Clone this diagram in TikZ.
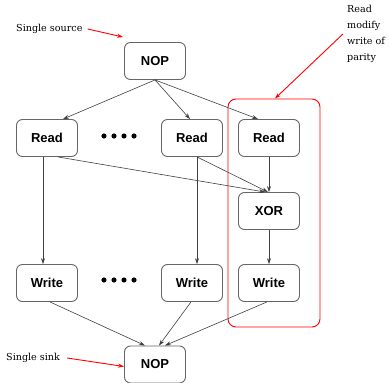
\documentclass[tikz,border=0pt]{standalone}
\usepackage{fontspec}
\setmainfont{DejaVu Serif}
\newfontfamily\opfont{Liberation Sans}
\usetikzlibrary{arrows.meta,positioning}

\begin{document}
\begin{tikzpicture}[x=1pt, y=-1pt,
    op/.style={draw=black!60, line width=0.9pt, rounded corners=6pt, minimum width=61pt, minimum height=37pt, inner sep=0pt, font=\opfont\bfseries\fontsize{13}{15}\selectfont},
    edge/.style={draw=black!75, line width=0.6pt, -{Stealth[length=6pt,width=4pt]}},
    pointer/.style={draw=red, line width=0.9pt, -{Stealth[length=6pt,width=4pt]}},
    note/.style={font=\fontsize{9.6}{16}\selectfont, align=left, inner sep=1pt}]
    \useasboundingbox (0,0) rectangle (389,383);

    % read-modify-write group
    \node[draw=red, line width=0.9pt, rounded corners=8pt, minimum width=92pt, minimum height=228pt] (rmw) at (274,213) {};

    % operations
    \node[op] (src) at (155,61) {NOP};
    \node[op] (r1) at (47,138) {Read};
    \node[op] (r2) at (192,138) {Read};
    \node[op] (r3) at (269,138) {Read};
    \node[op] (xor) at (269,211) {XOR};
    \node[op] (w1) at (47,283) {Write};
    \node[op] (w2) at (192,283) {Write};
    \node[op] (w3) at (269,283) {Write};
    \node[op] (sink) at (155,364.5) {NOP};

    % elided columns
    \foreach \i in {0,...,3} {
        \fill (104+\i*10,136) circle (2.6pt);
        \fill (104+\i*10,280) circle (2.6pt);
    }

    % dependencies
    \draw[edge] (src.south) -- ([xshift=16pt]r1.north);
    \draw[edge] (src.south) -- ([xshift=-2pt]r2.north);
    \draw[edge] (src.south) -- ([xshift=-11pt]r3.north);
    \draw[edge] ([xshift=11pt]r1.south) -- ([xshift=-4pt]xor.north);
    \draw[edge] ([xshift=5pt]r2.south) -- ([xshift=-1pt]xor.north);
    \draw[edge] (r3.south) -- (xor.north);
    \draw[edge] ([xshift=-4pt]r1.south) -- ([xshift=-4pt]w1.north);
    \draw[edge] ([xshift=5pt]r2.south) -- ([xshift=5pt]w2.north);
    \draw[edge] (xor.south) -- (w3.north);
    \draw[edge] ([xshift=3pt]w1.south) -- ([xshift=-10pt]sink.north);
    \draw[edge] ([xshift=-1pt]w2.south) -- ([xshift=4pt]sink.north);
    \draw[edge] ([xshift=-2pt]w3.south) -- ([xshift=10pt]sink.north);

    % annotations
    \node[note, anchor=west] (srcnote) at (15,29) {Single source};
    \node[note, anchor=west] (sinknote) at (5,358) {Single sink};
    \node[note, anchor=north west] (rmwnote) at (346,4) {Read\\modify\\write of\\parity};
    \draw[pointer] ([xshift=4pt]srcnote.east) -- ([xshift=-1pt,yshift=5pt]src.north west);
    \draw[pointer] ([xshift=6pt]sinknote.east) -- ([yshift=-2pt]sink.west);
    \draw[pointer] ([xshift=-3pt]rmwnote.west) -- ([xshift=1pt]rmw.north);
\end{tikzpicture}
\end{document}
